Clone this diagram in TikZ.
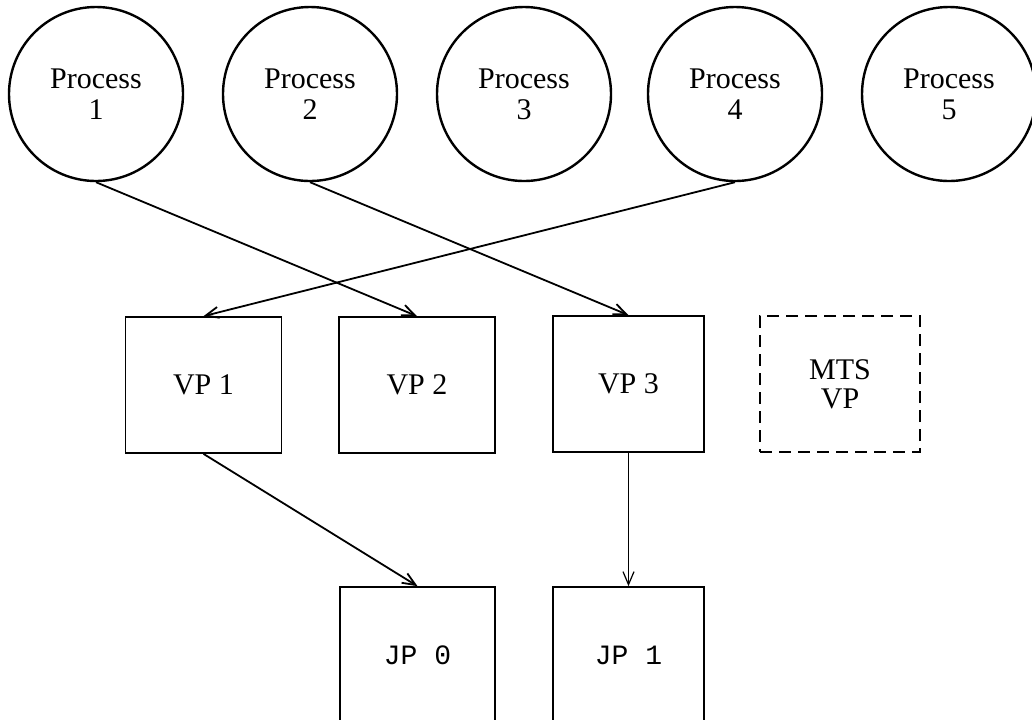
\documentclass[tikz,border=0pt]{standalone}
\usepackage{fontspec}
\setmainfont{Liberation Serif}
\newfontfamily\jpfont{Liberation Mono}
\usetikzlibrary{arrows.meta}
\begin{document}
\begin{tikzpicture}[x=0.5pt,y=-0.5pt,
  proc/.style={circle, draw, line width=1.2pt, minimum size=87pt, inner sep=0pt,
    align=center, font=\fontsize{15}{15.5}\selectfont},
  vpbox/.style={draw, line width=0.85pt, minimum width=78pt, minimum height=68pt,
    inner sep=0pt, align=center, font=\fontsize{15}{14.5}\selectfont},
  jpbox/.style={vpbox, font=\jpfont\fontsize{14}{14}\selectfont},
  mtsbox/.style={vpbox, line width=1pt, dash pattern=on 6pt off 3.5pt},
  link/.style={-{Straight Barb[length=6.5pt,width=5.5pt]}, line width=0.9pt},
]
\useasboundingbox (0,0) rectangle (1032,719);
\clip (0,0) rectangle (1032,719);

% processes
\node[proc] (p1) at (96,94)  {Process\\1};
\node[proc] (p2) at (310,94) {Process\\2};
\node[proc] (p3) at (524,94) {Process\\3};
\node[proc] (p4) at (735,94) {Process\\4};
\node[proc] (p5) at (949,94) {Process\\5};

% virtual processors
\node[vpbox] (vp1) at (203.5,385) {VP 1};
\node[vpbox] (vp2) at (417,385) {VP 2};
\node[vpbox, minimum width=75.5pt] (vp3) at (628.5,384) {VP 3};
\node[mtsbox, minimum width=80pt] (mts) at (840,384) {MTS\\VP};

% job processors
\node[jpbox, minimum width=77.5pt] (jp0) at (417.5,655) {JP 0};
\node[jpbox, minimum width=75.5pt] (jp1) at (628.5,655) {JP 1};

% mappings
\draw[link] (p1.south) -- (vp2.north);
\draw[link] (p2.south) -- (vp3.north);
\draw[link] (p4.south) -- (vp1.north);
\draw[link] (vp1.south) -- (jp0.north);
\draw[link, line width=0.6pt] (vp3.south) -- (jp1.north);
\end{tikzpicture}
\end{document}
